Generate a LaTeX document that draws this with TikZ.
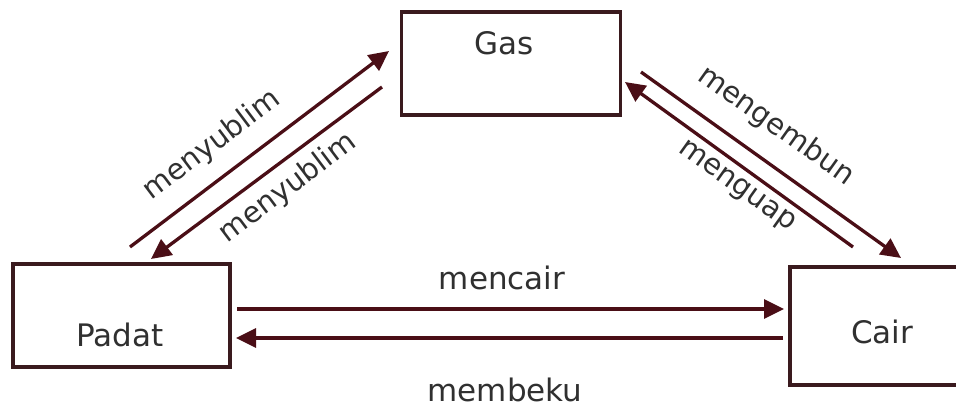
\documentclass[tikz,border=0pt]{standalone}
\usepackage{fontspec}
\setmainfont{DejaVu Sans}
\usetikzlibrary{arrows.meta}
\definecolor{arrcol}{HTML}{4A0E16}
\definecolor{boxcol}{HTML}{3A1A1E}
\definecolor{txtcol}{HTML}{303030}
\begin{document}
\begin{tikzpicture}[x=1pt,y=-1pt,
  box/.style={draw=boxcol, line width=3.3pt, rectangle, inner sep=0pt},
  lbl/.style={text=txtcol, font=\fontsize{31}{36}\selectfont, inner sep=0pt, anchor=base},
  dlbl/.style={text=txtcol, font=\fontsize{29}{34}\selectfont, inner sep=0pt},
  arr/.style={draw=arrcol, line width=3.3pt, -{Triangle[length=20pt,width=19pt]}}
]
\clip (0,0) rectangle (956,407);
\fill[white] (0,0) rectangle (956,407);

% boxes
\node[box, minimum width=219pt, minimum height=103pt] (gas) at (511,63.5) {};
\node[box, minimum width=217pt, minimum height=103pt] (padat) at (121.5,315.5) {};
\node[box, minimum width=172pt, minimum height=118pt] (cair) at (876,326) {};

% box texts
\node[lbl] (gastxt) at (504,54) {Gas};
\node[lbl] (padattxt) at (120,346) {Padat};
\node[lbl] (cairtxt) at (882,343) {Cair};

% connector end points
\coordinate (pc1) at (237,309);
\coordinate (pc2) at (784,309);
\coordinate (cp1) at (783,338);
\coordinate (cp2) at (236,338);
\coordinate (pg1) at (130,247);
\coordinate (pg2) at (389,51);
\coordinate (gp1) at (382,87);
\coordinate (gp2) at (151,259);
\coordinate (cg1) at (853,247);
\coordinate (cg2) at (625,82);
\coordinate (gc1) at (641,72);
\coordinate (gc2) at (901,258);

% arrows
\draw[arr] (pc1) -- (pc2);
\draw[arr] (cp1) -- (cp2);
\draw[arr] (pg1) -- (pg2);
\draw[arr] (gp1) -- (gp2);
\draw[arr] (cg1) -- (cg2);
\draw[arr] (gc1) -- (gc2);

% arrow labels
\node[lbl] (mencair) at (502,289) {mencair};
\node[lbl] (membeku) at (505,401) {membeku};
\node[dlbl, rotate=37] (sub1) at (212,145) {menyublim};
\node[dlbl, rotate=37] (sub2) at (288,188) {menyublim};
\node[dlbl, rotate=-35.5] (embun) at (776,126) {mengembun};
\node[dlbl, rotate=-35.5] (uap) at (736,187) {menguap};
\end{tikzpicture}
\end{document}
